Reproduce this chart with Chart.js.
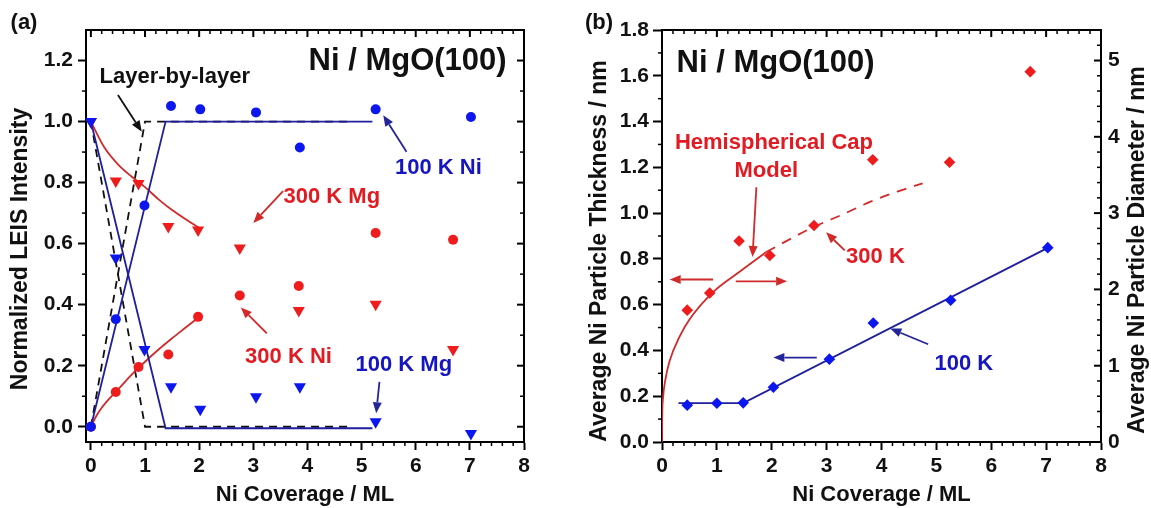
<!DOCTYPE html>
<html>
<head>
<meta charset="utf-8">
<script src="https://cdn.jsdelivr.net/npm/chart.js@4.4.1/dist/chart.umd.min.js"></script>
<style>
  html,body{margin:0;padding:0;background:#fff;}
  body{width:1151px;height:508px;overflow:hidden;position:relative;}
  .pane{position:absolute;top:0;height:508px;}
</style>
</head>
<body>
<div class="pane" style="left:0;width:575px"><canvas id="ca" width="575" height="508"></canvas></div>
<div class="pane" style="left:575px;width:576px"><canvas id="cb" width="576" height="508"></canvas></div>
<script>
// ---------------- data: panel (a) ----------------
const covNi100 = [0, 0.46, 0.99, 1.48, 2.02, 3.05, 3.86, 5.26, 7.02];
const ni100    = [0, 0.352, 0.725, 1.051, 1.04, 1.03, 0.915, 1.04, 1.015];
const covMg100 = [0, 0.46, 0.99, 1.48, 2.02, 3.05, 3.86, 5.26, 7.02];
const mg100    = [1.0, 0.553, 0.253, 0.131, 0.057, 0.098, 0.131, 0.016, -0.022];
const covMg300 = [0, 0.46, 0.88, 1.43, 1.98, 2.75, 3.84, 5.26, 6.69];
const mg300    = [1.0, 0.805, 0.797, 0.656, 0.645, 0.586, 0.381, 0.401, 0.253];
const covNi300 = [0, 0.46, 0.88, 1.43, 1.98, 2.75, 3.84, 5.26, 6.69];
const ni300    = [0, 0.114, 0.196, 0.237, 0.36, 0.43, 0.461, 0.635, 0.613];
// fitted / model lines
const layerX   = [0, 1.0, 4.8];
const layerNi  = [0, 1.0, 1.0];
const layerMg  = [1.0, 0, 0];
const fit100X  = [0, 1.38, 5.2];
const fitNi100 = [0, 1.0, 1.0];
const fitMg100 = [1.0, -0.005, -0.005];
const fitMg300X = [0, 0.25, 0.5, 0.75, 1.0, 1.25, 1.5, 1.75, 2.0];
const fitMg300  = [1.0, 0.915, 0.86, 0.82, 0.785, 0.745, 0.71, 0.68, 0.652];
const fitNi300X = [0, 0.1, 0.2, 0.35, 0.5, 0.75, 1.0, 1.25, 1.5, 1.75, 2.0];
const fitNi300  = [0, 0.035, 0.062, 0.094, 0.122, 0.17, 0.213, 0.253, 0.29, 0.325, 0.36];

// ---------------- data: panel (b) ----------------
const covT300 = [0.46, 0.87, 1.405, 1.965, 2.77, 3.84, 5.24, 6.71];
const thick300 = [0.576, 0.651, 0.878, 0.815, 0.946, 1.233, 1.222, 1.618];
const covT100 = [0.46, 1.0, 1.48, 2.03, 3.05, 3.85, 5.26, 7.03];
const thick100 = [0.161, 0.169, 0.171, 0.239, 0.362, 0.520, 0.619, 0.849];
const fitT100X = [0.3, 1.48, 7.03];
const fitT100  = [0.17, 0.17, 0.848];
const capSolidX = [0, 0.003, 0.018, 0.06, 0.14, 0.32, 0.5, 0.93, 1.42, 1.9];
const capSolid  = [0, 0.1, 0.19, 0.27, 0.355, 0.46, 0.535, 0.655, 0.745, 0.83];
const capDashX  = [1.9, 2.4, 2.77, 3.3, 3.8, 4.3, 4.75];
const capDash   = [0.83, 0.895, 0.94, 0.995, 1.05, 1.095, 1.13];

// ---------------- ticks ----------------
const xTickVals   = [0, 1, 2, 3, 4, 5, 6, 7, 8];
const xTickLabels = ['0', '1', '2', '3', '4', '5', '6', '7', '8'];
const yTickValsA   = [0, 0.2, 0.4, 0.6, 0.8, 1.0, 1.2];
const yTickLabelsA = ['0.0', '0.2', '0.4', '0.6', '0.8', '1.0', '1.2'];
const yTickValsB   = [0, 0.2, 0.4, 0.6, 0.8, 1.0, 1.2, 1.4, 1.6, 1.8];
const yTickLabelsB = ['0.0', '0.2', '0.4', '0.6', '0.8', '1.0', '1.2', '1.4', '1.6', '1.8'];
const y2TickVals   = [0, 1, 2, 3, 4, 5];
const y2TickLabels = ['0', '1', '2', '3', '4', '5'];

// ---------------- styles ----------------
const FONT = '"Liberation Sans", Arial, sans-serif';
const RED = '#ee1c1c', RED_LINE = '#d02a2a', RED_TXT = '#e21b22';
const BLUE = '#0c16ee', BLUE_LINE = '#1f1f9c', BLUE_TXT = '#1616c0', BLUE_ARROW = '#25259a';
const INK = '#111';
Chart.defaults.font.family = FONT;

const xy = (xs, ys) => xs.map((x, i) => ({x: x, y: ys[i]}));

function pts(data, color, style, r, rot) {
  return {data: data, showLine: false, pointStyle: style, pointRadius: r, pointHoverRadius: r,
    pointRotation: rot || 0, backgroundColor: color, borderColor: color, pointBorderWidth: 0};
}
function ln(data, color, width, dash, smooth) {
  return {data: data, showLine: true, pointRadius: 0, pointHoverRadius: 0, borderColor: color,
    borderWidth: width, borderDash: dash || [], fill: false,
    cubicInterpolationMode: smooth ? 'monotone' : 'default', tension: smooth ? 0.4 : 0};
}

function xScale(min) {
  return {
    type: 'linear', position: 'bottom', min: min, max: 8,
    afterBuildTicks: s => { s.ticks = xTickVals.map(v => ({value: v})); },
    afterFit: s => { s.height = 66; },
    ticks: {callback: (v, i) => xTickLabels[i], font: {size: 21, weight: 'bold'}, color: INK,
      padding: 4, maxRotation: 0, autoSkip: false},
    grid: {drawOnChartArea: false, drawTicks: true, tickLength: 8, tickWidth: 2, tickColor: '#000'},
    border: {display: true, color: '#000', width: 2},
    title: {display: true, text: 'Ni Coverage / ML', font: {size: 22, weight: 'bold'}, color: INK, padding: 0}
  };
}
function yScale(min, max, vals, labels, width, tl, pad) {
  return {
    type: 'linear', position: 'left', min: min, max: max,
    afterBuildTicks: s => { s.ticks = vals.map(v => ({value: v})); },
    afterFit: s => { s.width = width; },
    ticks: {callback: (v, i) => labels[i], font: {size: 21, weight: 'bold'}, color: INK, padding: pad, autoSkip: false},
    grid: {drawOnChartArea: false, drawTicks: true, tickLength: tl, tickWidth: 2, tickColor: '#000'},
    border: {display: true, color: '#000', width: 2}
  };
}

function seg(ctx, x1, y1, x2, y2) { ctx.beginPath(); ctx.moveTo(x1, y1); ctx.lineTo(x2, y2); ctx.stroke(); }
function arrow(ctx, x1, y1, x2, y2, color) {
  const head = 11, w = 4.5;
  const a = Math.atan2(y2 - y1, x2 - x1);
  const bx = x2 - head * Math.cos(a), by = y2 - head * Math.sin(a);
  ctx.strokeStyle = color; ctx.fillStyle = color; ctx.lineWidth = 1.8;
  seg(ctx, x1, y1, bx, by);
  ctx.beginPath(); ctx.moveTo(x2, y2);
  ctx.lineTo(bx + w * Math.sin(a), by - w * Math.cos(a));
  ctx.lineTo(bx - w * Math.sin(a), by + w * Math.cos(a));
  ctx.closePath(); ctx.fill();
}
function label(ctx, t, x, y, color, size, rot) {
  ctx.save();
  ctx.translate(x, y); if (rot) ctx.rotate(rot);
  ctx.font = 'bold ' + size + 'px ' + FONT; ctx.fillStyle = color;
  ctx.textAlign = 'center'; ctx.textBaseline = 'middle';
  ctx.fillText(t, 0, 0); ctx.restore();
}

// decorations: frame, minor/mirror ticks, arrows, annotations, y titles
function decor(opts) {
  return {
    id: 'decor',
    afterDraw(chart) {
      const {ctx, chartArea: ca, scales} = chart;
      const sx = scales.x, sy = scales.y;
      ctx.save();
      ctx.strokeStyle = '#000'; ctx.lineWidth = 2;
      seg(ctx, ca.left - 1, ca.top, ca.right + 1, ca.top);
      if (opts.rightFrame) seg(ctx, ca.right, ca.top, ca.right, ca.bottom);
      // x ticks
      for (let i = 0; i <= 40; i++) {
        const p = sx.getPixelForValue(i * 0.2), major = i % 5 === 0;
        ctx.lineWidth = major ? 2 : 1.5;
        if (!major) seg(ctx, p, ca.bottom, p, ca.bottom + 4);
        seg(ctx, p, ca.top, p, ca.top + (major ? 7 : 4));
      }
      // left minor ticks
      for (let i = 1; i < opts.yMax * 10; i += 2) {
        const p = sy.getPixelForValue(i / 10);
        ctx.lineWidth = 1.5; seg(ctx, ca.left - 4, p, ca.left, p);
      }
      // right inward ticks
      const rs = opts.rightScale ? scales[opts.rightScale] : sy;
      const n = Math.round(opts.rightMax / opts.rightStep);
      for (let i = 0; i <= n; i++) {
        const v = i * opts.rightStep, p = rs.getPixelForValue(v);
        const major = i % opts.rightMajorEvery === 0;
        ctx.lineWidth = major ? 2 : 1.5;
        seg(ctx, ca.right, p, ca.right - (major ? 7 : 4), p);
      }
      // arrows
      opts.arrows.forEach(a => arrow(ctx, sx.getPixelForValue(a.x1), sy.getPixelForValue(a.y1),
        sx.getPixelForValue(a.x2), sy.getPixelForValue(a.y2), a.c));
      // annotations
      opts.texts.forEach(t => label(ctx, t.t, sx.getPixelForValue(t.x), sy.getPixelForValue(t.y), t.c, t.s || 22));
      // titles
      opts.titles.forEach(t => label(ctx, t.t, t.px, t.py, INK, t.s, t.rot));
      ctx.restore();
    }
  };
}

const common = {
  responsive: false, animation: false, devicePixelRatio: 1,
  plugins: {legend: {display: false}, tooltip: {enabled: false}},
  events: []
};

// ---------------- panel (a) ----------------
new Chart(document.getElementById('ca'), {
  type: 'scatter',
  data: {datasets: [
    pts(xy(covNi100, ni100), BLUE, 'circle', 5),
    pts(xy(covMg100, mg100), BLUE, 'triangle', 7, 180),
    pts(xy(covNi300, ni300), RED, 'circle', 5),
    pts(xy(covMg300, mg300), RED, 'triangle', 7, 180),
    ln(xy(fit100X, fitNi100), BLUE_LINE, 1.8),
    ln(xy(fit100X, fitMg100), BLUE_LINE, 1.8),
    ln(xy(fitMg300X, fitMg300), RED_LINE, 1.8, null, true),
    ln(xy(fitNi300X, fitNi300), RED_LINE, 1.8, null, true),
    ln(xy(layerX, layerNi), INK, 1.8, [8, 6]),
    ln(xy(layerX, layerMg), INK, 1.8, [8, 6])
  ]},
  options: Object.assign({}, common, {
    layout: {padding: {left: 0, top: 30, right: 51, bottom: 0}},
    scales: {
      x: xScale(-0.09),
      y: yScale(-0.05, 1.3, yTickValsA, yTickLabelsA, 86, 8, 5)
    }
  }),
  plugins: [decor({
    rightFrame: true, yMax: 1.3, rightStep: 0.1, rightMax: 1.2, rightMajorEvery: 2,
    arrows: [
      {x1: 0.50, y1: 1.087, x2: 0.94, y2: 0.967, c: INK},
      {x1: 5.83, y1: 0.901, x2: 5.40, y2: 1.021, c: BLUE_ARROW},
      {x1: 3.55, y1: 0.772, x2: 3.00, y2: 0.668, c: RED_LINE},
      {x1: 3.25, y1: 0.306, x2: 2.77, y2: 0.391, c: RED_LINE},
      {x1: 5.33, y1: 0.147, x2: 5.27, y2: 0.044, c: BLUE_ARROW}
    ],
    texts: [
      {t: 'Ni / MgO(100)', x: 5.85, y: 1.196, c: INK, s: 31},
      {t: 'Layer-by-layer', x: 1.55, y: 1.146, c: INK},
      {t: '100 K Ni', x: 6.42, y: 0.848, c: BLUE_TXT},
      {t: '300 K Mg', x: 4.45, y: 0.753, c: RED_TXT},
      {t: '300 K Ni', x: 3.65, y: 0.228, c: RED_TXT},
      {t: '100 K Mg', x: 5.78, y: 0.202, c: BLUE_TXT}
    ],
    titles: [
      {t: '(a)', px: 24, py: 23, s: 22},
      {t: 'Normalized LEIS Intensity', px: 21, py: 249, s: 23, rot: -Math.PI / 2}
    ]
  })]
});

// ---------------- panel (b) ----------------
const y2 = {
  type: 'linear', position: 'right', min: 0, max: 5.4,
  afterBuildTicks: s => { s.ticks = y2TickVals.map(v => ({value: v})); },
  afterFit: s => { s.width = 50; },
  ticks: {callback: (v, i) => y2TickLabels[i], font: {size: 21, weight: 'bold'}, color: INK, padding: 7, autoSkip: false},
  grid: {display: false, drawOnChartArea: false, drawTicks: false},
  border: {display: true, color: '#000', width: 2}
};
new Chart(document.getElementById('cb'), {
  type: 'scatter',
  data: {datasets: [
    pts(xy(covT300, thick300), RED, 'rectRot', 5.8),
    pts(xy(covT100, thick100), BLUE, 'rectRot', 5.8),
    ln(xy(fitT100X, fitT100), BLUE_LINE, 1.8),
    ln(xy(capSolidX, capSolid), RED_LINE, 1.8, null, true),
    ln(xy(capDashX, capDash), RED_LINE, 1.8, [10, 8], true)
  ]},
  options: Object.assign({}, common, {
    layout: {padding: {left: 0, top: 30, right: 0, bottom: 0}},
    scales: {
      x: xScale(0),
      y: yScale(0, 1.8, yTickValsB, yTickLabelsB, 87, 9, 4),
      y2: y2
    }
  }),
  plugins: [decor({
    rightFrame: false, yMax: 1.8, rightScale: 'y2', rightStep: 0.2, rightMax: 5.2, rightMajorEvery: 5,
    arrows: [
      {x1: 1.72, y1: 1.113, x2: 1.65, y2: 0.808, c: RED_LINE},
      {x1: 3.33, y1: 0.837, x2: 2.99, y2: 0.916, c: RED_LINE},
      {x1: 0.93, y1: 0.71, x2: 0.14, y2: 0.71, c: RED_LINE},
      {x1: 1.345, y1: 0.702, x2: 2.28, y2: 0.702, c: RED_LINE},
      {x1: 2.82, y1: 0.369, x2: 2.03, y2: 0.369, c: BLUE_ARROW},
      {x1: 4.85, y1: 0.427, x2: 4.16, y2: 0.496, c: BLUE_ARROW}
    ],
    texts: [
      {t: 'Ni / MgO(100)', x: 2.07, y: 1.653, c: INK, s: 31},
      {t: 'Hemispherical Cap', x: 2.04, y: 1.305, c: RED_TXT},
      {t: 'Model', x: 1.90, y: 1.186, c: RED_TXT},
      {t: '300 K', x: 3.89, y: 0.807, c: RED_TXT},
      {t: '100 K', x: 5.50, y: 0.340, c: BLUE_TXT}
    ],
    titles: [
      {t: '(b)', px: 24, py: 23, s: 22},
      {t: 'Average Ni Particle Thickness / nm', px: 25, py: 251, s: 23, rot: -Math.PI / 2},
      {t: 'Average Ni Particle Diameter / nm', px: 563, py: 250, s: 23, rot: -Math.PI / 2}
    ]
  })]
});
</script>
</body>
</html>
